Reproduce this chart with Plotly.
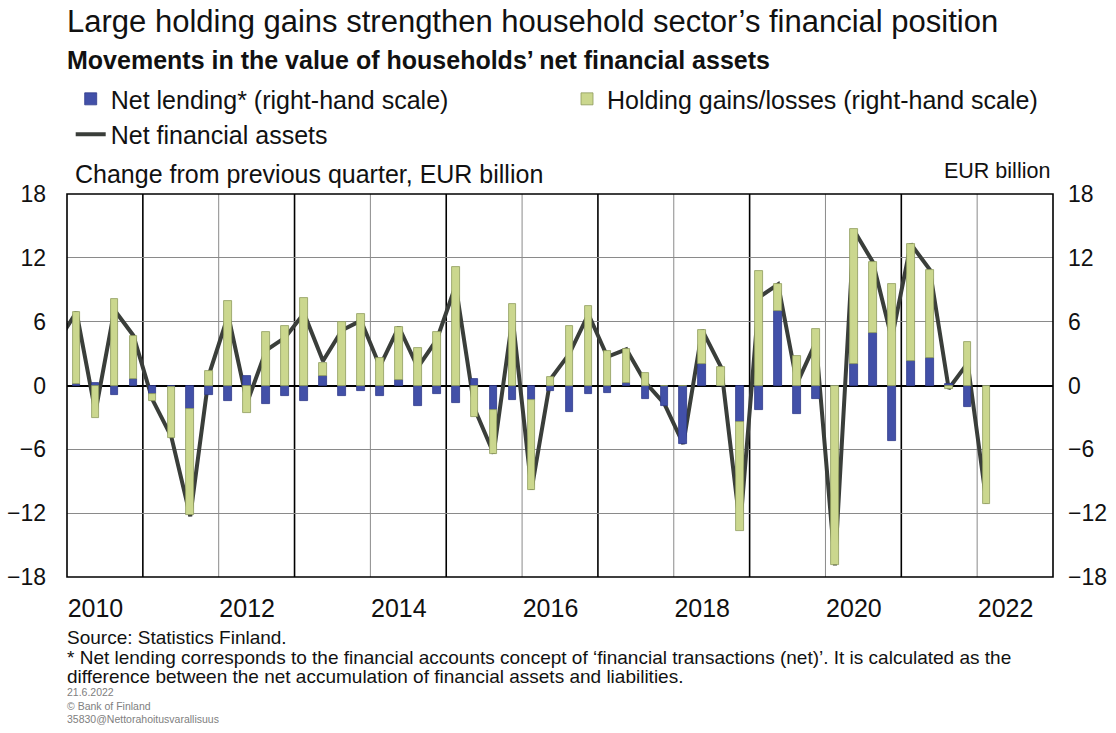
import plotly.graph_objects as go

# ---- data (EUR billion, change from previous quarter) ----
quarters = ["2009Q4"] + [f"{y}Q{q}" for y in range(2010, 2023) for q in range(1, 5)][:49]

net_lending = [None,
    0.1, 0.2, -0.9, 0.6,
    -0.8, -0.1, -2.2, -0.9,
    -1.5, 0.85, -1.7, -1.0,
    -1.5, 0.85, -1.0, -0.55,
    -1.0, 0.5, -1.9, -0.8,
    -1.6, 0.6, -2.3, -1.4,
    -1.4, -0.55, -2.5, -0.8,
    -0.7, 0.2, -1.3, -1.9,
    -5.5, 2.0, 0.0, -3.4,
    -2.3, 7.0, -2.7, -1.25,
    0.0, 2.0, 4.9, -5.2,
    2.3, 2.6, 0.1, -2.0,
    0.0]

holding_gains = [None,
    6.8, -3.1, 8.1, 4.1,
    -0.7, -4.8, -10.0, 1.4,
    7.9, -2.6, 5.0, 5.6,
    8.2, 1.3, 6.0, 6.7,
    2.6, 5.0, 3.5, 5.0,
    11.1, -3.0, -4.1, 7.7,
    -8.4, 0.8, 5.6, 7.5,
    3.2, 3.2, 1.2, 0.0,
    0.0, 3.2, 1.7, -10.3,
    10.8, 2.5, 2.8, 5.3,
    -16.9, 12.7, 6.7, 9.5,
    11.0, 8.3, -0.3, 4.1,
    -11.1]

net_financial_assets = [4.1,
    6.9, -2.5, 7.1, 4.7,
    -1.3, -4.8, -12.3, 1.1,
    6.6, -1.6, 3.3, 4.5,
    6.8, 2.3, 5.2, 6.1,
    1.8, 5.5, 1.7, 4.3,
    9.4, -2.2, -6.4, 6.4,
    -9.8, 0.6, 3.0, 6.7,
    2.7, 3.4, 0.3, -1.7,
    -5.5, 5.2, 1.7, -13.3,
    8.3, 9.5, 0.2, 4.1,
    -16.9, 14.6, 11.6, 4.4,
    13.3, 10.9, -0.3, 2.1,
    -11.1]

year_labels = ["2010", "2012", "2014", "2016", "2018", "2020", "2022"]
y_ticks = [-18, -12, -6, 0, 6, 12, 18]

# quarter -> position on a continuous year axis (centre of quarter)
def qpos(s):
    y, q = s.split("Q")
    return int(y) + (int(q) - 0.5) / 4

xpos = [qpos(s) for s in quarters]

FONT = "Liberation Sans, Arial, sans-serif"
BLUE = "#4250A8"
GREEN = "#CBD78E"
LINE = "#3A3E3A"
TXT = "#111111"

fig = go.Figure()
fig.add_trace(go.Bar(
    x=xpos, y=net_lending, name="Net lending* (right-hand scale)",
    marker=dict(color=BLUE, line=dict(color="#2E3A8A", width=0.8)),
    width=0.1, yaxis="y2", legend="legend"))
fig.add_trace(go.Bar(
    x=xpos, y=holding_gains, name="Holding gains/losses (right-hand scale)",
    marker=dict(color=GREEN, line=dict(color="#8E9B5C", width=0.8)),
    width=0.1, yaxis="y2", legend="legend2"))
fig.add_trace(go.Scatter(
    x=xpos, y=net_financial_assets, name="Net financial assets",
    mode="lines", line=dict(color=LINE, width=4), legend="legend"))

shapes = []
for yr in range(2011, 2023):
    shapes.append(dict(type="line", xref="x", yref="paper", x0=yr, x1=yr, y0=0, y1=1,
                       line=dict(color="#000000" if yr % 2 == 1 else "#8A8A8A",
                                 width=1.6 if yr % 2 == 1 else 1),
                       layer="below"))
shapes.append(dict(type="rect", xref="paper", yref="paper", x0=0, x1=1, y0=0, y1=1,
                   line=dict(color="#000000", width=1.6), layer="above"))

# page pixel -> paper coordinates (plot area 67..1053 x 194..577 on the page)
TOP, BOT, LEFT, RIGHT = 194.0, 577.3, 67.3, 1052.7
H = BOT - TOP
W = RIGHT - LEFT
def py(pix):
    return (BOT - pix) / H
def px(pix):
    return (pix - LEFT) / W

annotations = [
    dict(text="Large holding gains strengthen household sector’s financial position",
         x=px(65), y=py(21), xanchor="left", yanchor="middle", font=dict(size=31, color=TXT)),
    dict(text="<b>Movements in the value of households’ net financial assets</b>",
         x=px(65), y=py(60), xanchor="left", yanchor="middle", font=dict(size=25, color=TXT)),
    dict(text="Change from previous quarter, EUR billion",
         x=px(73), y=py(174), xanchor="left", yanchor="middle", font=dict(size=25, color=TXT)),
    dict(text="EUR billion",
         x=px(1052), y=py(171), xanchor="right", yanchor="middle", font=dict(size=21.5, color=TXT)),
    dict(text="Source: Statistics Finland.",
         x=px(65), y=py(638), xanchor="left", yanchor="middle", font=dict(size=19, color=TXT)),
    dict(text="* Net lending corresponds to the financial accounts concept of ‘financial transactions (net)’. It is calculated as the",
         x=px(65), y=py(658), xanchor="left", yanchor="middle", font=dict(size=19, color=TXT)),
    dict(text="difference between the net accumulation of financial assets and liabilities.",
         x=px(65), y=py(677), xanchor="left", yanchor="middle", font=dict(size=19, color=TXT)),
    dict(text="21.6.2022<br>© Bank of Finland<br>35830@Nettorahoitusvarallisuus",
         x=px(65), y=py(684), xanchor="left", yanchor="top", align="left",
         font=dict(size=10.5, color="#808080")),
]
for a in annotations:
    a.update(xref="paper", yref="paper", showarrow=False)

FW, FH = 1116, 733
fig.update_layout(
    width=FW, height=FH,
    margin=dict(l=LEFT, r=FW - RIGHT, t=TOP, b=FH - BOT, autoexpand=False),
    paper_bgcolor="white", plot_bgcolor="white",
    font=dict(family=FONT, size=25, color=TXT),
    barmode="relative", bargap=0,
    showlegend=True,
    legend=dict(orientation="v", x=px(71), y=py(76), xanchor="left", yanchor="top",
                traceorder="normal", font=dict(size=25, color=TXT),
                bgcolor="rgba(0,0,0,0)"),
    legend2=dict(orientation="v", x=px(567), y=py(76), xanchor="left", yanchor="top",
                 font=dict(size=25, color=TXT), bgcolor="rgba(0,0,0,0)"),
    xaxis=dict(range=[2010, 2023], showgrid=False, zeroline=False,
               tickmode="array", tickvals=[int(y) + 0.375 for y in year_labels],
               ticktext=year_labels, ticks="", ticklabelstandoff=14,
               tickfont=dict(size=25, color=TXT)),
    yaxis=dict(range=[-18, 18], tickmode="array", tickvals=y_ticks,
               showgrid=True, gridcolor="#8A8A8A", gridwidth=1,
               zeroline=True, zerolinecolor="#000000", zerolinewidth=2,
               ticks="", ticklabelstandoff=20, tickfont=dict(size=23, color=TXT)),
    yaxis2=dict(range=[-18, 18], overlaying="y", side="right", tickmode="array",
                tickvals=y_ticks, showgrid=False, zeroline=False, ticks="",
                ticklabelstandoff=14, tickfont=dict(size=23, color=TXT)),
    shapes=shapes, annotations=annotations,
)

# remove the default 8px page margin so the figure fills the window exactly
fig.write_html("out.html",
               config={"displayModeBar": False},
               post_script="document.body.style.margin='0';document.body.style.overflow='hidden';")
